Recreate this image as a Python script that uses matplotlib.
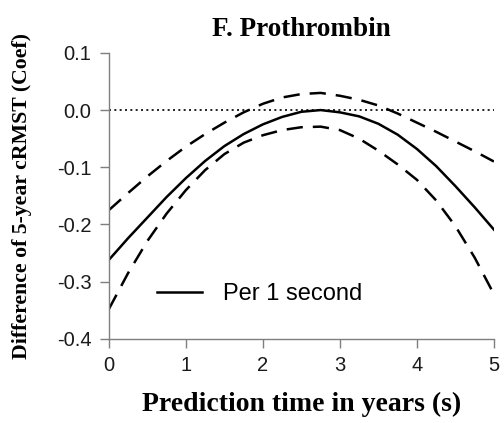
import matplotlib
matplotlib.use("Agg")
import matplotlib.pyplot as plt

# Valores (passo de 0.25 ano)
tempo = [0, 0.25, 0.5, 0.75, 1.0, 1.25, 1.5, 1.75, 2.0, 2.25, 2.5,
         2.75, 3.0, 3.25, 3.5, 3.75, 4.0, 4.25, 4.5, 4.75, 5.0]
coef = [-0.262, -0.224, -0.188, -0.152, -0.119, -0.089, -0.063, -0.042, -0.025, -0.012, -0.003,
        0.000, -0.004, -0.011, -0.024, -0.043, -0.068, -0.098, -0.133, -0.170, -0.209]
ic_sup = [-0.175, -0.145, -0.116, -0.089, -0.064, -0.042, -0.022, -0.004, 0.011, 0.022, 0.028,
          0.030, 0.025, 0.018, 0.008, -0.006, -0.022, -0.038, -0.055, -0.072, -0.090]
ic_inf = [-0.348, -0.285, -0.229, -0.181, -0.140, -0.105, -0.077, -0.057, -0.044, -0.035, -0.030,
          -0.029, -0.035, -0.050, -0.071, -0.095, -0.122, -0.158, -0.203, -0.258, -0.322]

x_ticks = [0, 1, 2, 3, 4, 5]
y_ticks = [-0.4, -0.3, -0.2, -0.1, 0.0, 0.1]

titulo = "F. Prothrombin"
rotulo_x = "Prediction time in years (s)"
rotulo_y = "Difference of 5-year cRMST (Coef)"
legenda = "Per 1 second"

fig = plt.figure(figsize=(5.04, 4.23), dpi=100)
ax = fig.add_axes([0.216, 0.199, 0.764, 0.676])

ax.axhline(0, color="black", lw=1.2, linestyle=(0, (1.2, 2.0)))
linha, = ax.plot(tempo, coef, color="black", lw=1.8, label=legenda)
ax.plot(tempo, ic_sup, color="black", lw=1.8, linestyle=(0, (6.5, 4)))
ax.plot(tempo, ic_inf, color="black", lw=1.8, linestyle=(0, (6.5, 4)))

ax.set_xlim(0, 5)
ax.set_ylim(-0.4, 0.1)
ax.set_xticks(x_ticks)
ax.set_yticks(y_ticks)
ax.set_yticklabels([f"{v:.1f}" for v in y_ticks])

for lado in ["top", "right"]:
    ax.spines[lado].set_visible(False)
for lado in ["left", "bottom"]:
    ax.spines[lado].set_color("#7f7f7f")
    ax.spines[lado].set_linewidth(1.0)

ax.tick_params(direction="out", length=6.5, width=1.0, color="#7f7f7f",
               labelsize=14.5, labelcolor="#1a1a1a")
ax.tick_params(axis="x", pad=6)
ax.tick_params(axis="y", pad=6)
for t in ax.get_xticklabels() + ax.get_yticklabels():
    t.set_fontfamily("Liberation Sans")

serif = "Liberation Serif"
ax.set_title(titulo, fontfamily=serif, fontweight="bold", fontsize=19.5, pad=12)
ax.set_xlabel(rotulo_x, fontfamily=serif, fontweight="bold", fontsize=20, va="center")
ax.set_ylabel(rotulo_y, fontfamily=serif, fontweight="bold", fontsize=15.7, va="center")
ax.xaxis.set_label_coords(0.5, -0.231)
ax.yaxis.set_label_coords(-0.226, 0.5)

leg = ax.legend(handles=[linha], loc="center left", bbox_to_anchor=(0.125, 0.157),
                frameon=False, handlelength=1.9, handletextpad=0.9,
                borderpad=0, borderaxespad=0,
                prop={"family": "Liberation Sans", "size": 17})

fig.savefig("out.png", dpi=100)
